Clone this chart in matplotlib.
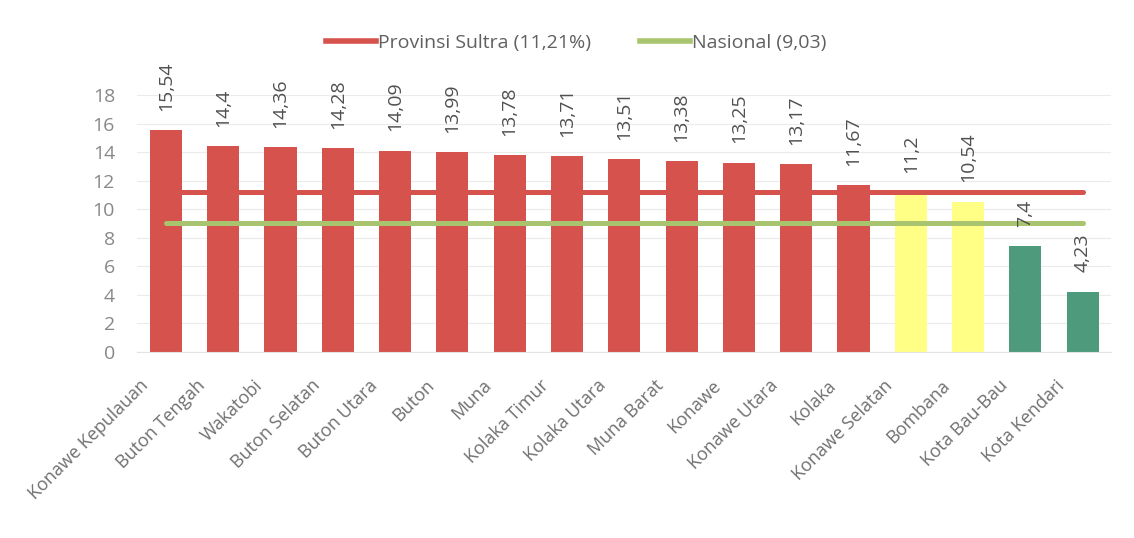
import matplotlib

matplotlib.use("Agg")
import matplotlib.pyplot as plt
from matplotlib.lines import Line2D
from matplotlib.transforms import ScaledTranslation

# data
regions = [
    "Konawe Kepulauan", "Buton Tengah", "Wakatobi", "Buton Selatan", "Buton Utara",
    "Buton", "Muna", "Kolaka Timur", "Kolaka Utara", "Muna Barat", "Konawe",
    "Konawe Utara", "Kolaka", "Konawe Selatan", "Bombana", "Kota Bau-Bau", "Kota Kendari",
]
values = [15.54, 14.4, 14.36, 14.28, 14.09, 13.99, 13.78, 13.71, 13.51, 13.38, 13.25,
          13.17, 11.67, 11.2, 10.54, 7.4, 4.23]
value_labels = ["15,54", "14,4", "14,36", "14,28", "14,09", "13,99", "13,78", "13,71",
                "13,51", "13,38", "13,25", "13,17", "11,67", "11,2", "10,54", "7,4", "4,23"]
provinsi = 11.21
nasional = 9.03
legend_labels = ["Provinsi Sultra (11,21%)", "Nasional (9,03)"]

RED = "#D6524C"
YELLOW = "#FFFF85"
GREEN = "#4E9A7C"
LINE_GREEN = "#A9C46E"


def bar_color(v: float) -> str:
    if v > provinsi:
        return RED
    if v > nasional:
        return YELLOW
    return GREEN


plt.rcParams["font.family"] = ["Open Sans", "DejaVu Sans"]

fig = plt.figure(figsize=(11.34, 5.38), dpi=100)
ax = fig.add_axes([0.121, 0.3457, 0.859, 0.4777])

x = list(range(len(regions)))
ax.bar(x, values, width=0.56, color=[bar_color(v) for v in values], zorder=2)
ax.plot([x[0], x[-1]], [provinsi, provinsi], color=RED, lw=3.6, zorder=3,
        solid_capstyle="round")
ax.plot([x[0], x[-1]], [nasional, nasional], color=LINE_GREEN, lw=3.6, zorder=3,
        solid_capstyle="round")

for xi, v, lab in zip(x, values, value_labels):
    ax.annotate(lab, (xi, v), xytext=(0, 14), textcoords="offset points",
                rotation=90, ha="center", va="bottom", fontsize=14, color="#505050",
                annotation_clip=False, zorder=4)

ax.set_xlim(-0.5, len(regions) - 0.5)
ax.set_ylim(0, 18)
ax.set_yticks(range(0, 19, 2))
ax.tick_params(axis="y", length=0, labelsize=14, labelcolor="#888888", pad=16)
ax.tick_params(axis="x", length=0, pad=6)
ax.set_xticks(x)
ax.set_xticklabels(regions, rotation=45, ha="right", rotation_mode="anchor",
                   fontsize=13, color="#707070")
shift = ScaledTranslation(-0.27, -0.16, fig.dpi_scale_trans)
for lbl in ax.get_xticklabels():
    lbl.set_transform(lbl.get_transform() + shift)
ax.grid(axis="y", color="#EBEBEB", lw=0.8, zorder=0)
for s in ["top", "right", "left"]:
    ax.spines[s].set_visible(False)
ax.spines["bottom"].set_color("#E3E3E3")

handles = [Line2D([], [], color=RED, lw=4), Line2D([], [], color=LINE_GREEN, lw=4)]
fig.legend(handles, legend_labels, loc="center", bbox_to_anchor=(0.508, 0.92),
           ncol=2, frameon=False, fontsize=14, labelcolor="#606060", handlelength=2.6,
           handletextpad=0.1, columnspacing=2.5)

fig.savefig("out.png", dpi=100)
